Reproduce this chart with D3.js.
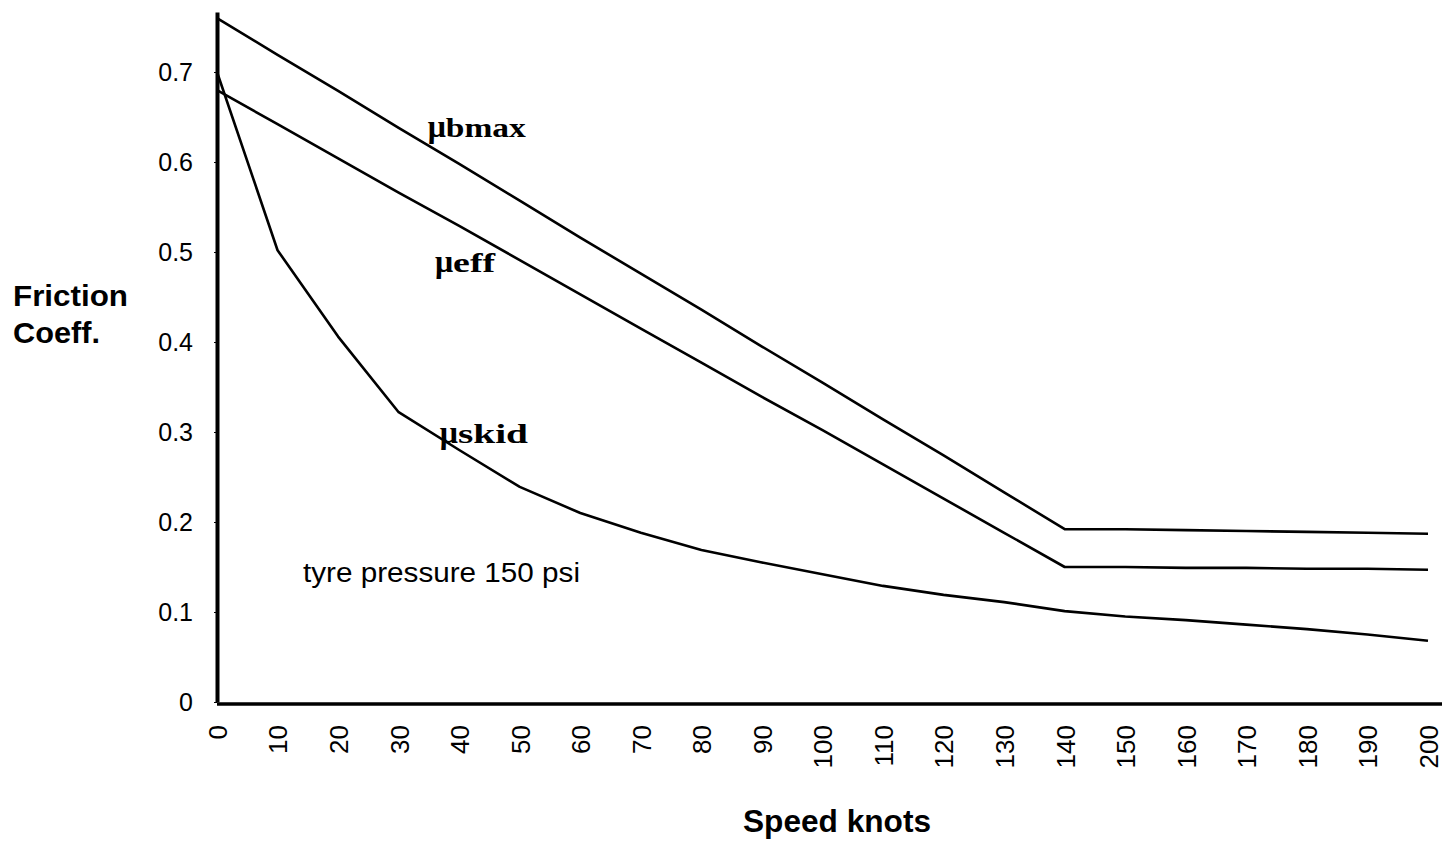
<!DOCTYPE html>
<html>
<head>
<meta charset="utf-8">
<script src="https://cdn.jsdelivr.net/npm/d3@7"></script>
<style>
  body { margin: 0; background: #fff; }
  svg { display: block; background: #fff; }
</style>
</head>
<body>
<svg id="chart" width="1445" height="847"></svg>
<script>
// speed categories (knots)
const speeds = [0, 10, 20, 30, 40, 50, 60, 70, 80, 90, 100, 110, 120, 130, 140, 150, 160, 170, 180, 190, 200];

// friction coefficients
const muBmax = [0.760, 0.719, 0.679, 0.638, 0.598, 0.557, 0.516, 0.476, 0.436, 0.395, 0.355, 0.314, 0.274, 0.233, 0.192, 0.192, 0.191, 0.190, 0.189, 0.188, 0.187];
const muEff  = [0.680, 0.642, 0.604, 0.566, 0.529, 0.491, 0.453, 0.415, 0.377, 0.339, 0.302, 0.264, 0.226, 0.188, 0.150, 0.150, 0.149, 0.149, 0.148, 0.148, 0.147];
const muSkid = [0.700, 0.502, 0.406, 0.322, 0.280, 0.239, 0.210, 0.188, 0.169, 0.155, 0.142, 0.129, 0.119, 0.111, 0.101, 0.095, 0.091, 0.086, 0.081, 0.075, 0.068];

// axis ticks
const yTicks = [0, 0.1, 0.2, 0.3, 0.4, 0.5, 0.6, 0.7];
const xTicks = speeds;

const SANS  = "'Liberation Sans', Arial, sans-serif";
const SERIF = "'Liberation Serif', 'Times New Roman', serif";

const svg = d3.select('#chart');

const x = d3.scaleLinear()
  .domain([0, 200])
  .range([217, 1428]);

const y = d3.scaleLinear()
  .domain([0, 0.7667])
  .range([702, 12]);

// y axis
const yAxis = svg.append('g')
    .attr('transform', `translate(${x(0)},0)`)
    .call(d3.axisLeft(y)
      .tickValues(yTicks)
      .tickSize(3)
      .tickSizeOuter(0)
      .tickPadding(21)
      .tickFormat((d) => d === 0 ? '0' : d.toFixed(1)));

yAxis.select('.domain')
    .attr('stroke', '#000')
    .attr('stroke-width', 4);

yAxis.selectAll('text')
    .attr('fill', '#000')
    .style('font-family', SANS)
    .style('font-size', '25px');

// x axis
const xAxis = svg.append('g')
    .attr('transform', `translate(0,${y(0) + 2})`)
    .call(d3.axisBottom(x)
      .tickValues(xTicks)
      .tickSize(0)
      .tickFormat(d3.format('d')));

xAxis.select('.domain').remove();

xAxis.append('line')
    .attr('x1', x(0))
    .attr('x2', x(200) + 14)
    .attr('stroke', '#000')
    .attr('stroke-width', 3.5);

xAxis.selectAll('.tick text')
    .attr('transform', 'rotate(-90)')
    .attr('x', -21)
    .attr('y', 0)
    .attr('dy', '0.36em')
    .attr('text-anchor', 'end')
    .attr('fill', '#000')
    .style('font-family', SANS)
    .style('font-size', '26px');

// series lines
const line = d3.line()
  .x((d, i) => x(speeds[i]))
  .y((d) => y(d));

svg.append('g')
    .attr('fill', 'none')
    .attr('stroke', '#000')
    .attr('stroke-width', 2.6)
    .attr('stroke-linejoin', 'round')
  .selectAll('path')
    .data([muBmax, muEff, muSkid])
  .enter()
  .append('path')
    .attr('d', line);

// series labels: mu glyph plus squeezed bold serif suffix
const labels = [
  { sub: 'bmax', at: [34.8, 0.628], rest: 80 },
  { sub: 'eff',  at: [36.0, 0.478], rest: 42 },
  { sub: 'skid', at: [36.8, 0.288], rest: 70 }
];

const lab = svg.append('g')
  .selectAll('text')
    .data(labels)
  .enter()
  .append('text')
    .attr('x', (d) => x(d.at[0]))
    .attr('y', (d) => y(d.at[1]))
    .style('font-family', SERIF)
    .style('font-weight', 'bold');

lab.append('tspan')
    .text('\u03bc')
    .style('font-size', '32px');

lab.append('tspan')
    .text((d) => d.sub)
    .attr('textLength', (d) => d.rest)
    .attr('lengthAdjust', 'spacingAndGlyphs')
    .style('font-size', '27px');

// annotation
svg.append('text')
    .text('tyre pressure 150 psi')
    .attr('x', 303)
    .attr('y', 582)
    .attr('textLength', 277)
    .attr('lengthAdjust', 'spacingAndGlyphs')
    .style('font-family', SANS)
    .style('font-size', '27px');

// axis titles
svg.append('text')
    .text('Friction')
    .attr('x', 13)
    .attr('y', 306)
    .attr('textLength', 115)
    .attr('lengthAdjust', 'spacingAndGlyphs')
    .style('font-family', SANS)
    .style('font-weight', 'bold')
    .style('font-size', '30px');

svg.append('text')
    .text('Coeff.')
    .attr('x', 13)
    .attr('y', 343)
    .attr('textLength', 87)
    .attr('lengthAdjust', 'spacingAndGlyphs')
    .style('font-family', SANS)
    .style('font-weight', 'bold')
    .style('font-size', '30px');

svg.append('text')
    .text('Speed knots')
    .attr('x', 743)
    .attr('y', 832)
    .attr('textLength', 188)
    .attr('lengthAdjust', 'spacingAndGlyphs')
    .style('font-family', SANS)
    .style('font-weight', 'bold')
    .style('font-size', '32px');
</script>
</body>
</html>
